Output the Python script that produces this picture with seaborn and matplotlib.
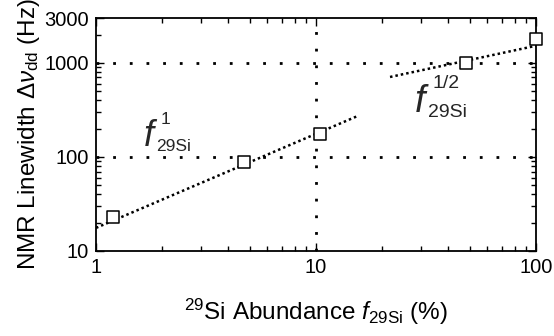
import matplotlib
matplotlib.use("Agg")
import matplotlib.pyplot as plt
import seaborn as sns
import pandas as pd
from matplotlib.ticker import LogLocator, NullFormatter, FixedLocator, FixedFormatter

# data
abundance = [1.2, 4.7, 10.4, 48.0, 99.5]
linewidth = [23.0, 89.0, 176.0, 990.0, 1780.0]
fit1_x = [1.0, 15.5]
fit1_y = [17.6, 273.0]
fit2_x = [21.7, 100.0]
fit2_y = [708.0, 1520.0]
xticks = [1, 10, 100]
xticklabels = ["1", "10", "100"]
yticks = [10, 100, 1000, 3000]
yticklabels = ["10", "100", "1000", "3000"]

sns.set_theme(style="white")
plt.rcParams["font.family"] = ["Liberation Sans", "DejaVu Sans"]
plt.rcParams["mathtext.fontset"] = "custom"
plt.rcParams["mathtext.rm"] = "Liberation Sans"
plt.rcParams["mathtext.it"] = "Liberation Sans:italic"
plt.rcParams["mathtext.bf"] = "Liberation Sans:bold"

fig = plt.figure(figsize=(5.54, 3.36), dpi=100)
ax = fig.add_axes([96/554, 1 - 251/336, (536-96)/554, (251-18)/336])

df = pd.DataFrame({"x": abundance, "y": linewidth})
ax.set_xscale("log")
ax.set_yscale("log")

# grid lines
for yv in [100, 1000]:
    ax.axhline(yv, color="black", lw=2.0, ls=(0, (1, 5)), zorder=1)
ax.axvline(10, color="black", lw=2.0, ls=(0, (1, 5)), zorder=1)

sns.lineplot(x=fit1_x, y=fit1_y, ax=ax, color="black", lw=1.8, linestyle=(0, (1, 1.2)))
sns.lineplot(x=fit2_x, y=fit2_y, ax=ax, color="black", lw=1.8, linestyle=(0, (1, 1.2)))
sns.scatterplot(data=df, x="x", y="y", ax=ax, marker="s", s=70, facecolor="white",
                edgecolor="black", linewidth=1.1, zorder=5, clip_on=False)

ax.set_xlim(1, 100)
ax.set_ylim(10, 3000)

ax.xaxis.set_major_locator(FixedLocator(xticks))
ax.xaxis.set_major_formatter(FixedFormatter(xticklabels))
ax.xaxis.set_minor_locator(LogLocator(base=10, subs=range(2, 10)))
ax.xaxis.set_minor_formatter(NullFormatter())
ax.yaxis.set_major_locator(FixedLocator(yticks))
ax.yaxis.set_major_formatter(FixedFormatter(yticklabels))
ax.yaxis.set_minor_locator(LogLocator(base=10, subs=range(2, 10)))
ax.yaxis.set_minor_formatter(NullFormatter())

ax.tick_params(which="both", direction="in", top=True, right=True, bottom=True, left=True,
               colors="black", labelsize=14.5, width=1)
ax.tick_params(which="major", length=6, pad=5)
ax.tick_params(which="minor", length=3.5)
for s in ax.spines.values():
    s.set_color("black")
    s.set_linewidth(1.3)

ax.set_xlabel(r"$^{29}$Si Abundance $f_{\rm 29Si}$ (%)", fontsize=17.5, labelpad=14, color="black")
ax.set_ylabel(r"NMR Linewidth $\Delta\nu_{\rm dd}$ (Hz)", fontsize=17.5, labelpad=2, color="black")

# annotations
def fpix(x, y):
    return (x / 554, 1 - y / 336)

fig.text(*fpix(144, 146), "f", fontsize=26, style="italic", ha="left", va="baseline")
fig.text(*fpix(161, 124), "1", fontsize=12.5, ha="left", va="baseline")
fig.text(*fpix(156, 151), "29Si", fontsize=12.5, ha="left", va="baseline")

fig.text(*fpix(415, 112), "f", fontsize=27, style="italic", ha="left", va="baseline")
fig.text(*fpix(432, 88), "1/2", fontsize=14, ha="left", va="baseline")
fig.text(*fpix(428, 117), "29Si", fontsize=14, ha="left", va="baseline")

fig.savefig("out.png", dpi=100)
